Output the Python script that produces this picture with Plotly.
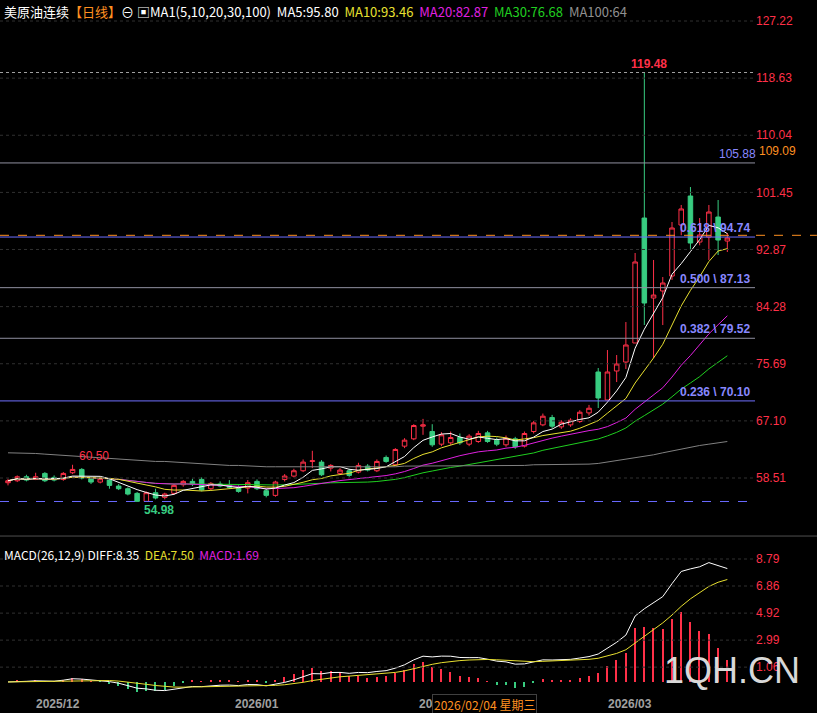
import plotly.graph_objects as go
import pandas as pd

opens = [57.8,58.1,58.7,58.3,59.2,58.6,58.3,59.3,59.8,58.4,57.9,58.2,57.3,56.9,56.2,55.0,56.3,55.6,56.2,57.5,
         58.0,58.3,56.9,57.6,57.4,57.1,57.0,58.0,56.6,55.9,58.3,58.8,59.6,61.0,60.9,60.0,59.2,59.6,59.4,60.3,
         59.6,61.6,60.5,63.3,64.4,66.3,65.5,63.6,63.8,64.6,63.6,64.0,65.3,64.2,63.5,64.4,63.3,65.5,66.5,67.6,
         66.2,66.5,67.0,68.3,74.45,70.24,74.60,75.95,78.81,97.60,85.57,86.63,88.88,96.55,100.91,93.99,94.74,97.75,94.14]
highs = [58.4,58.9,59.0,59.3,59.4,58.9,59.4,60.5,60.0,58.7,58.6,58.4,57.6,57.1,56.4,56.5,56.9,56.3,57.6,58.2,
         58.4,58.6,57.9,58.0,58.2,57.4,58.2,58.3,56.9,58.1,59.1,59.9,61.3,62.6,61.2,60.6,60.0,59.9,60.8,60.6,
         61.3,61.9,63.0,64.5,66.6,67.4,66.6,65.4,65.5,65.2,65.1,65.6,65.6,64.6,64.9,64.7,65.5,67.1,68.2,68.0,
         67.2,67.5,68.7,69.5,75.05,77.75,77.00,81.96,92.34,119.48,91.29,88.73,97.0,99.56,102.26,97.6,99.56,100.31,95.35]
lows = [57.4,57.9,58.0,58.2,57.9,58.0,58.1,59.1,58.3,57.6,57.7,56.9,56.7,55.9,54.98,54.9,55.3,55.3,56.0,57.2,
        57.3,56.5,56.7,57.1,56.9,56.3,56.2,56.7,55.6,55.7,58.0,58.6,59.4,60.0,58.8,59.5,59.0,58.7,59.2,59.5,
        59.4,60.8,60.3,63.0,64.2,65.0,63.2,63.3,63.5,63.5,63.3,63.8,63.8,63.3,63.2,62.9,63.1,65.2,66.3,66.0,
        65.9,66.2,66.8,67.9,69.03,70.24,72.94,74.90,78.81,81.51,76.55,81.51,88.3,95.0,92.79,93.5,91.29,92.04,92.49]
closes = [58.1,58.7,58.2,58.7,58.1,58.2,59.2,59.8,58.5,57.9,58.4,57.4,56.9,56.1,55.0,56.3,55.5,56.1,57.4,58.0,
          57.6,56.7,57.7,57.3,57.1,56.5,57.8,56.9,55.9,57.9,58.8,59.6,60.9,61.1,59.0,60.4,59.7,58.9,60.4,59.7,
          61.0,61.0,62.8,64.2,66.4,66.5,63.5,65.0,64.6,63.8,64.8,65.2,64.0,63.6,64.5,63.2,65.2,66.8,67.8,66.3,
          66.9,67.2,68.4,69.0,70.54,74.45,75.65,78.51,90.99,84.82,86.02,87.83,96.10,98.96,93.84,95.05,98.50,94.29,94.59]
ma100 = [62.3,62.3,62.2,62.2,62.1,62.0,62.0,61.9,61.8,61.7,61.6,61.5,61.4,61.3,61.2,61.1,61.0,61.0,60.9,60.8,
         60.7,60.6,60.5,60.5,60.4,60.4,60.3,60.3,60.2,60.2,60.2,60.1,60.1,60.1,60.1,60.1,60.1,60.1,60.1,60.2,
         60.2,60.2,60.2,60.3,60.3,60.4,60.4,60.4,60.4,60.4,60.4,60.4,60.4,60.4,60.4,60.4,60.4,60.5,60.5,60.5,
         60.5,60.5,60.6,60.6,60.7,60.9,61.1,61.3,61.5,61.8,62.0,62.3,62.6,62.9,63.2,63.4,63.6,63.8,64.0]

main_ticks = [127.22,118.63,110.04,101.45,92.87,84.28,75.69,67.10,58.51]
macd_ticks = [1.06,2.99,4.92,6.86,8.79]
month_labels = [(5.4,"2025/12"),(27.0,"2026/01"),(67.4,"2026/03")]
fib_levels = [(0.618,94.74,"#7070ff"),(0.500,87.13,"#9090a0"),(0.382,79.52,"#9090a0"),(0.236,70.10,"#7070ff")]

n = len(closes)
x = list(range(n))
s = pd.Series(closes)
ma = {p: s.rolling(p, min_periods=1).mean() for p in (5,10,20,30)}
ema12 = s.ewm(span=12, adjust=False).mean()
ema26 = s.ewm(span=26, adjust=False).mean()
diff = ema12 - ema26
dea = diff.ewm(span=9, adjust=False).mean()
hist = 2*(diff-dea)

fig = go.Figure()
for p, c in [(30,"#20d020"),(20,"#e020e0"),(10,"#e8e030"),(5,"#ffffff")]:
    fig.add_trace(go.Scatter(x=x, y=ma[p], mode="lines", line=dict(color=c, width=1), yaxis="y", hoverinfo="skip"))
fig.add_trace(go.Scatter(x=x, y=ma100, mode="lines", line=dict(color="#808080", width=1), hoverinfo="skip"))
fig.add_trace(go.Candlestick(x=x, open=opens, high=highs, low=lows, close=closes,
    increasing=dict(line=dict(color="#ff3048", width=1), fillcolor="#000000"),
    decreasing=dict(line=dict(color="#38cc80", width=1), fillcolor="#38cc80"),
    whiskerwidth=0, yaxis="y"))
fig.add_trace(go.Bar(x=x, y=hist, width=0.15,
    marker=dict(color=["#ff3048" if v >= 0 else "#38cc80" for v in hist], line=dict(width=0)), yaxis="y2"))
fig.add_trace(go.Scatter(x=x, y=diff, mode="lines", line=dict(color="#ffffff", width=1), yaxis="y2"))
fig.add_trace(go.Scatter(x=x, y=dea, mode="lines", line=dict(color="#e8e030", width=1), yaxis="y2"))

shapes = []
def hline(y, color, dash="solid", yref="y", x1=1):
    shapes.append(dict(type="line", xref="paper", yref=yref, x0=0, x1=x1, y0=y, y1=y,
                       line=dict(color=color, width=1, dash=dash)))
for t in main_ticks:
    hline(t, "#303030", "dot")
for t in macd_ticks:
    hline(t, "#303030", "dot", "y2")
hline(119.48, "#a0a0a0", "dot")
hline(105.88, "#9090a0")
for r, v, c in fib_levels:
    hline(v, c)
hline(54.98, "#6a6aff", "dash")
hline(95.0, "#ff9020", "dash", x1=1.082)
shapes.append(dict(type="line", xref="paper", yref="paper", x0=0, x1=1.1, y0=0.2265, y1=0.2265,
                   line=dict(color="#505050", width=1)))

ann = []
for r, v, c in fib_levels:
    ann.append(dict(x=72.6, y=v, xref="x", yref="y", text=f"<b>{r:.3f} \\ {v:.2f}</b>", showarrow=False,
                    xanchor="left", yanchor="bottom", font=dict(color="#8888ff", size=12, family="Liberation Sans")))
ann.append(dict(x=69.5, y=119.48, text="<b>119.48</b>", showarrow=False, xanchor="center", yanchor="bottom",
                font=dict(color="#ff3048", size=12, family="Liberation Sans")))
ann.append(dict(x=76.9, y=105.88, text="105.88", showarrow=False, xanchor="left", yanchor="bottom",
                font=dict(color="#8888ff", size=12, family="Liberation Sans")))
ann.append(dict(x=7.5, y=60.5, text="60.50", showarrow=False, xanchor="left", yanchor="bottom",
                font=dict(color="#ff3048", size=12, family="Liberation Sans")))
ann.append(dict(x=14.5, y=54.98, text="<b>54.98</b>", showarrow=False, xanchor="left", yanchor="top",
                font=dict(color="#38cc80", size=12, family="Liberation Sans")))
ann.append(dict(x=1.003, y=107.7, xref="paper", text="109.09", showarrow=False, xanchor="left",
                font=dict(color="#ff9020", size=12, family="Liberation Sans")))
for xi, lab in month_labels:
    ann.append(dict(x=xi, y=-0.003, xref="x", yref="paper", text=f"<b>{lab}</b>", showarrow=False, yanchor="top",
                    font=dict(color="#a0a0a0", size=12, family="Liberation Sans")))
ann.append(dict(x=45.3, y=-0.003, xref="x", yref="paper", text="<b>20</b>", showarrow=False, yanchor="top",
                font=dict(color="#a0a0a0", size=12, family="Liberation Sans")))
ann.append(dict(x=46.0, y=-0.002, xref="x", yref="paper", text="2026/02/04 星期三", showarrow=False,
                xanchor="left", yanchor="top", bgcolor="#000000", bordercolor="#404040", borderwidth=1, borderpad=1,
                font=dict(color="#ff9020", size=12, family="Noto Sans CJK SC")))
ann.append(dict(x=1.062, y=0.0, xref="paper", yref="paper", text="1QH.CN", showarrow=False, xanchor="right",
                yanchor="bottom", font=dict(color="#d8d8d8", size=36, family="Liberation Sans")))
hdr = ("<span style='color:#ffffff'>美原油连续</span><span style='color:#ff9020'>【日线】</span>"
       "<span style='color:#ffffff'>⊖ ▣MA1(5,10,20,30,100)  MA5:95.80</span>  "
       "<span style='color:#e8e030'>MA10:93.46</span>  <span style='color:#e020e0'>MA20:82.87</span>  "
       "<span style='color:#20d020'>MA30:76.68</span>  <span style='color:#909090'>MA100:64</span>")
ann.append(dict(x=0.003, y=1.0, xref="paper", yref="paper", text=hdr, showarrow=False, xanchor="left",
                yanchor="top", font=dict(size=13, family="Noto Sans CJK SC")))
macd_hdr = ("<span style='color:#ffffff'>MACD(26,12,9) DIFF:8.35</span>  <span style='color:#e8e030'>DEA:7.50</span>"
            "  <span style='color:#e020e0'>MACD:1.69</span>")
ann.append(dict(x=0.003, y=0.215, xref="paper", yref="paper", text=macd_hdr, showarrow=False, xanchor="left",
                yanchor="top", font=dict(size=12, family="Noto Sans CJK SC")))

axfont = dict(color="#ff3048", size=12, family="Liberation Sans")
fig.update_layout(
    width=817, height=713, paper_bgcolor="#000000", plot_bgcolor="#000000",
    margin=dict(l=0, r=62, t=0, b=20), showlegend=False, shapes=shapes, annotations=ann,
    xaxis=dict(range=[-0.868, 81.0], showgrid=False, zeroline=False, showticklabels=False,
               rangeslider=dict(visible=False)),
    yaxis=dict(domain=[0.2323, 1], range=[50.39, 130.38], side="right", tickvals=main_ticks,
               ticktext=[f"{t:.2f}" for t in main_ticks], showgrid=False, zeroline=False, tickfont=axfont,
               ticks=""),
    yaxis2=dict(domain=[0, 0.2208], range=[-0.79, 10.15], side="right", tickvals=macd_ticks,
                ticktext=[f"{t:.2f}" for t in macd_ticks], showgrid=False, zeroline=False, tickfont=axfont),
    bargap=0,
)
fig.write_html("out.html", config={"displayModeBar": False},
               post_script="document.body.style.margin='0';document.body.style.overflow='hidden';document.body.style.background='#000';")
